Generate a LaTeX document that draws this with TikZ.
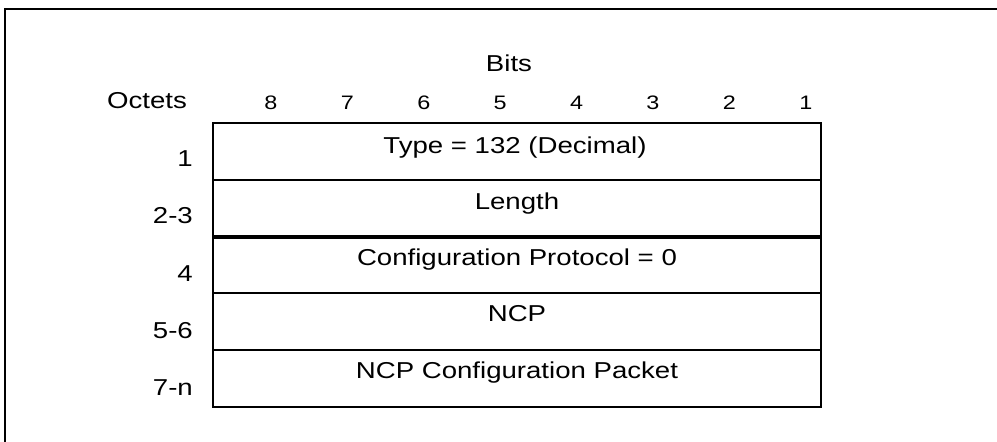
\documentclass[tikz,border=0pt]{standalone}
\usepackage{fontspec}
\setmainfont[FakeStretch=1.2]{Liberation Sans}
\begin{document}
\begin{tikzpicture}[x=1pt,y=-1pt,
  txt/.style={font=\fontsize{23}{26}\selectfont, inner sep=0pt},
  bit/.style={font=\fontsize{19.5}{22}\selectfont, inner sep=0pt, anchor=base},
  rowbox/.style={draw, line width=1.8pt, minimum width=607.4pt, inner sep=0pt},
  oct/.style={txt, anchor=base east}]
\useasboundingbox (0,0) rectangle (997,442);
% outer frame (only top and left edges visible)
\coordinate (fbl) at (5,442);
\coordinate (ftr) at (997,9);
\draw[line width=2pt] (fbl) |- (ftr);
% headings
\node[txt, anchor=base] (bits) at (509,71) {Bits};
\node[txt, anchor=base] (octets) at (147,108) {Octets};
\foreach \b [count=\i from 0] in {8,7,6,5,4,3,2,1}
  \node[bit] (b\b) at (271+76.4*\i,109) {\b};
% rows
\node[rowbox, minimum height=57.6pt] (r1) at (517,151.5) {};
\node[rowbox, minimum height=55.3pt] (r2) at (517,207.95) {};
\node[rowbox, minimum height=55.5pt] (r3) at (517,265.55) {};
\node[rowbox, minimum height=56.7pt] (r4) at (517,321.65) {};
\node[rowbox, minimum height=56.7pt] (r5) at (517,378.35) {};
% row texts
\node[txt, anchor=base] (t1) at (515,153) {Type = 132 (Decimal)};
\node[txt, anchor=base] (t2) at (517,209) {Length};
\node[txt, anchor=base] (t3) at (517,265) {Configuration Protocol = 0};
\node[txt, anchor=base] (t4) at (517,321) {NCP};
\node[txt, anchor=base] (t5) at (517,378) {NCP Configuration Packet};
% octet labels
\node[oct] (o1) at (193,166) {1};
\node[oct] (o2) at (193,223) {2-3};
\node[oct] (o3) at (193,281) {4};
\node[oct] (o4) at (193,338) {5-6};
\node[oct] (o5) at (193,395) {7-n};
\end{tikzpicture}
\end{document}
